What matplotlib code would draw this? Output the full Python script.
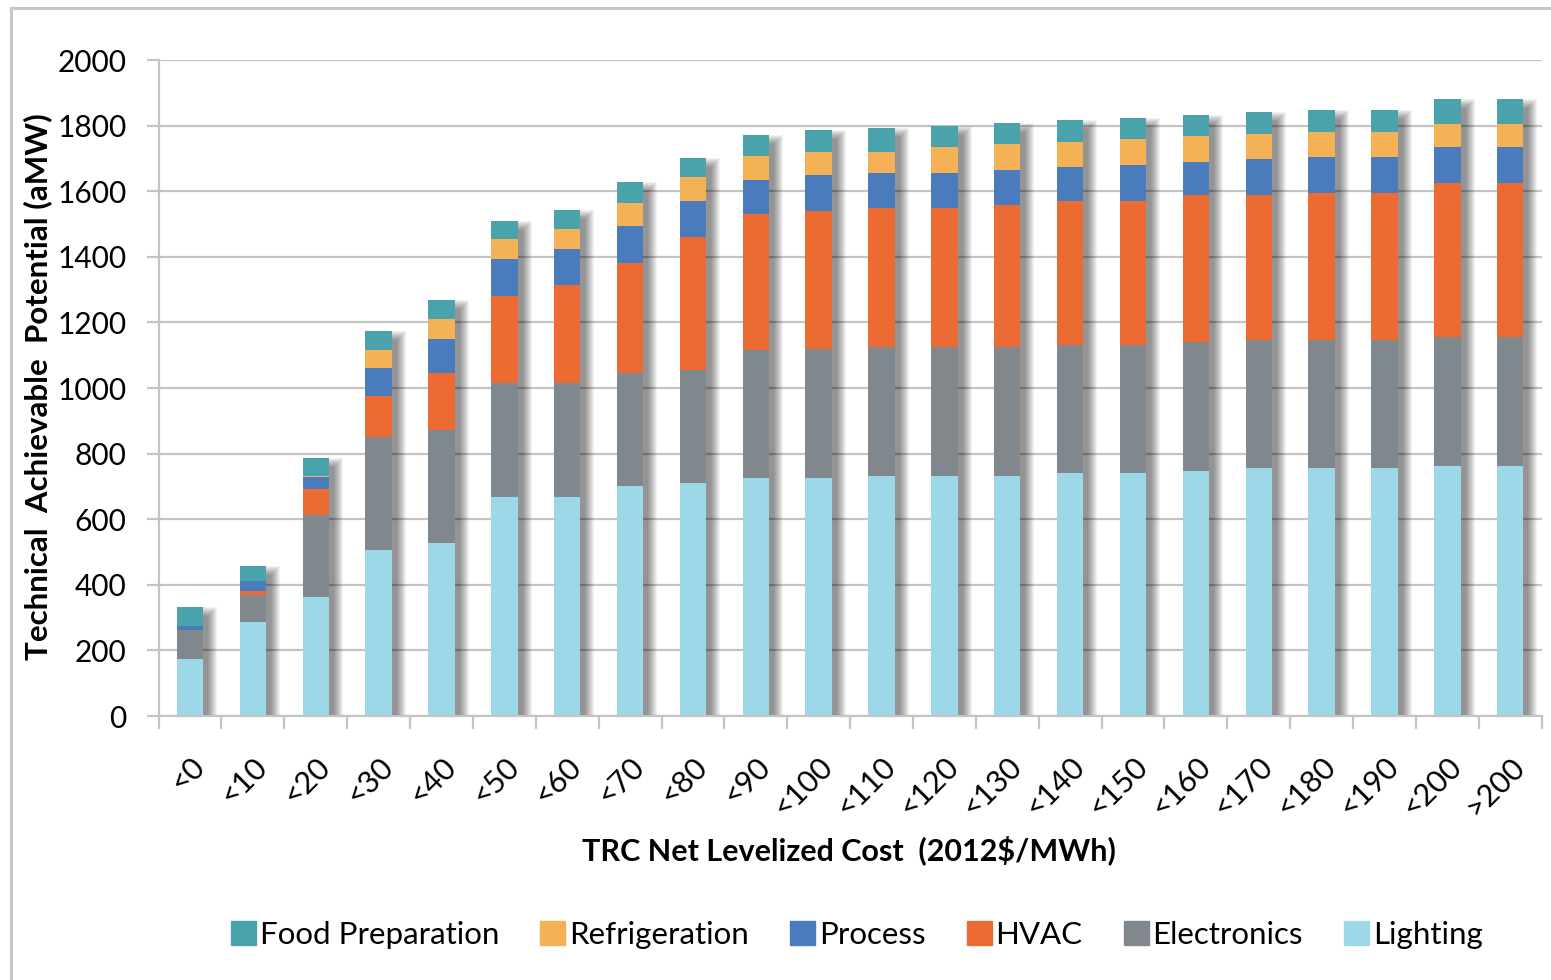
import numpy as np
import matplotlib
matplotlib.use('Agg')
import matplotlib.pyplot as plt
from matplotlib.patches import Patch
from matplotlib.lines import Line2D

plt.rcParams['font.family'] = ['Lato', 'DejaVu Sans']

# Cost bins and end-use potential (aMW)
categories = ['<0', '<10', '<20', '<30', '<40', '<50', '<60', '<70', '<80', '<90', '<100',
              '<110', '<120', '<130', '<140', '<150', '<160', '<170', '<180', '<190', '<200', '>200']
lighting = [174, 286, 364, 505, 527, 669, 669, 701, 709, 725, 725,
            732, 732, 732, 740, 740, 748, 756, 756, 756, 763, 763]
electronics = [88, 84, 249, 346, 346, 345, 345, 345, 345, 391, 393,
               393, 393, 393, 391, 391, 391, 391, 391, 391, 392, 392]
hvac = [0, 11, 80, 124, 173, 268, 299, 336, 407, 416, 422,
        424, 424, 432, 440, 440, 448, 440, 448, 448, 471, 471]
process = [13, 30, 35, 86, 102, 110, 110, 112, 110, 102, 110,
           108, 108, 108, 103, 110, 102, 110, 109, 109, 110, 110]
refrigeration = [0, 0, 5, 56, 62, 62, 63, 71, 71, 73, 70,
                 63, 79, 79, 77, 78, 78, 77, 78, 78, 70, 70]
food_prep = [58, 47, 55, 57, 58, 56, 56, 63, 58, 64, 66,
             72, 64, 64, 65, 65, 64, 66, 66, 66, 74, 74]

series = [('Lighting', lighting, '#9DD8E8'),
          ('Electronics', electronics, '#80878D'),
          ('HVAC', hvac, '#EC6B33'),
          ('Process', process, '#4A7BBD'),
          ('Refrigeration', refrigeration, '#F4B155'),
          ('Food Preparation', food_prep, '#4AA3AC')]

W, H = 1551, 980
fig = plt.figure(figsize=(W / 100, H / 100), dpi=100)
ax = fig.add_axes([158.6 / W, 1 - 716 / H, 1383 / W, 656 / H])

x = np.arange(len(categories))
width = 0.42
totals = np.sum([s[1] for s in series], axis=0)

# soft drop shadow behind each stack (stacked translucent layers)
px_x = 1 / 62.86
px_y = 2000 / 656
for k in range(10):
    grow = -3 + k * 1.0
    ax.bar(x + 8 * px_x, totals - (6 - grow) * px_y, width=width + 2 * grow * px_x,
           color='black', alpha=0.05, linewidth=0, zorder=1)

bottom = np.zeros(len(categories))
for name, vals, col in series:
    ax.bar(x, vals, width=width, bottom=bottom, color=col, linewidth=0, zorder=2)
    bottom += np.array(vals)

ax.set_xlim(-0.5, len(categories) - 0.5)
ax.set_ylim(0, 2000)
ax.set_yticks(np.arange(0, 2001, 200))
ax.yaxis.grid(True, color='#C4C4C4', linewidth=1.6, zorder=0)
ax.set_axisbelow(True)

ax.set_xticks(x)
ax.set_xticklabels(categories, rotation=45, ha='right', rotation_mode='anchor')
ax.set_xticks(np.arange(-0.5, len(categories)), minor=True)
ax.tick_params(axis='x', which='major', length=0, pad=26, labelsize=22)
ax.tick_params(axis='x', which='minor', length=9, width=1.6, color='#C4C4C4', direction='out')
ax.tick_params(axis='y', length=9, width=1.6, color='#C4C4C4', pad=14, labelsize=21.5)

for side in ['top', 'right']:
    ax.spines[side].set_visible(False)
for side in ['left', 'bottom']:
    ax.spines[side].set_color('#C4C4C4')
    ax.spines[side].set_linewidth(1.6)

fig.text(38 / W, 1 - 387 / H, 'Technical  Achievable  Potential (aMW)', rotation=90,
         ha='center', va='center', fontsize=22.5, fontweight='bold')
fig.text(849 / W, 1 - 850 / H, 'TRC Net Levelized Cost  (2012$/MWh)',
         ha='center', va='center', fontsize=22, fontweight='bold')

handles = [Patch(color=col, label=name) for name, vals, col in series[::-1]]
fig.legend(handles=handles, loc='center', bbox_to_anchor=(857 / W, 1 - 935 / H), ncol=6,
           frameon=False, fontsize=22.5, handlelength=0.8, handleheight=0.8,
           handletextpad=0.12, columnspacing=1.32)

# outer chart border
fig.add_artist(Line2D([11 / W, 11 / W], [0, 1 - 8 / H], color='#C8C8C8', linewidth=2.2))
fig.add_artist(Line2D([11 / W, 1], [1 - 8 / H, 1 - 8 / H], color='#C8C8C8', linewidth=2.2))

fig.savefig('out.png', dpi=100)
